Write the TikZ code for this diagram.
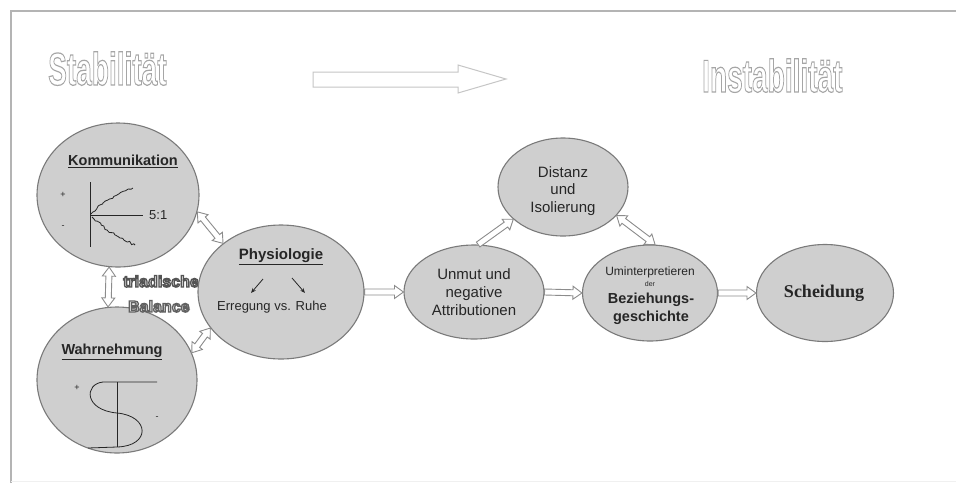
\documentclass[tikz,border=0pt]{standalone}
\usepackage{fontspec}
\setmainfont{Liberation Sans}
\newfontfamily\serifbold{Liberation Serif}
\usetikzlibrary{calc,shapes.geometric,decorations.pathmorphing,arrows.meta}
\definecolor{ellfill}{HTML}{CFCFCF}
\definecolor{elldraw}{HTML}{7A7A7A}
\definecolor{txtc}{HTML}{262626}
\definecolor{framec}{HTML}{B4B4B4}
\definecolor{arrc}{HTML}{8C8C8C}
\tikzset{
  bubble/.style={ellipse, draw=elldraw, fill=ellfill, line width=1.1pt, inner sep=0pt},
  txt/.style={text=txtc, inner sep=0pt, align=center},
  blk/.style={draw=arrc, fill=white, line width=0.9pt, line join=miter},
  thin/.style={draw=txtc, line width=0.8pt},
  outl/.style={inner sep=0pt, anchor=base west},
}
% outlined text: stroke grey, fill grey, line width, text
\newcommand\outl[4]{\special{pdf:literal direct q 2 Tr #3 w #1 G #2 g}#4\special{pdf:literal direct Q}}
% single block arrow from #1 to #2
\newcommand\sarrow[2]{%
  \draw[blk] ($(#1)!3pt!90:(#2)$) -- ($(#2)!9pt!(#1)!3pt!-90:(#1)$) -- ($(#2)!9pt!(#1)!6.5pt!-90:(#1)$) -- (#2)
   -- ($(#2)!9pt!(#1)!6.5pt!90:(#1)$) -- ($(#2)!9pt!(#1)!3pt!90:(#1)$) -- ($(#1)!3pt!-90:(#2)$) -- cycle;}
% double block arrow between #1 and #2
\newcommand\darrow[2]{%
  \draw[blk] (#1) -- ($(#1)!9pt!(#2)!6.5pt!90:(#2)$) -- ($(#1)!9pt!(#2)!3pt!90:(#2)$)
   -- ($(#2)!9pt!(#1)!3pt!-90:(#1)$) -- ($(#2)!9pt!(#1)!6.5pt!-90:(#1)$) -- (#2)
   -- ($(#2)!9pt!(#1)!6.5pt!90:(#1)$) -- ($(#2)!9pt!(#1)!3pt!90:(#1)$)
   -- ($(#1)!9pt!(#2)!3pt!-90:(#2)$) -- ($(#1)!9pt!(#2)!6.5pt!-90:(#2)$) -- cycle;}

\begin{document}
\begin{tikzpicture}[x=1pt,y=-1pt]
\useasboundingbox (0,0) rectangle (956,483);
\fill[white] (0,0) rectangle (956,483);
% frame
\draw[framec, line width=1.4pt] (11,483) -- (11,11) -- (956,11);
\draw[gray!12, line width=1pt] (11,481) -- (956,481);

% titles
\node[outl, font=\fontsize{46}{50}\selectfont\bfseries] (stab) at (48,85)
  {\scalebox{0.61}[1]{\outl{0.65}{1}{1.2}{Stabilität}}};
\node[outl, font=\fontsize{46}{50}\selectfont\bfseries] (inst) at (702,92)
  {\scalebox{0.61}[1]{\outl{0.65}{1}{1.2}{Instabilität}}};

% big hollow arrow
\coordinate (ba1) at (313,72);
\draw[draw=gray!45, line width=1pt, fill=white] (ba1) -- (458,72) -- (458,65) -- (506,79) -- (458,93) -- (458,87) -- (313,87) -- cycle;

% ellipses (left)
\node[bubble, minimum width=162pt, minimum height=144pt] (kom) at (118,195) {};
\node[bubble, minimum width=160pt, minimum height=146pt] (wahr) at (117,380) {};

% triadische Balance (over Wahrnehmung, behind Physiologie)
\node[outl, font=\fontsize{16}{18}\selectfont\bfseries] (tri) at (123,287)
  {\outl{0.33}{0.86}{1.3}{triadische}};
\node[outl, font=\fontsize{16}{18}\selectfont\bfseries] (bal) at (128,312)
  {\outl{0.38}{0.9}{1.3}{Balance}};

% ellipses (rest)
\node[bubble, minimum width=166pt, minimum height=134pt] (phys) at (281,292) {};
\node[bubble, minimum width=140pt, minimum height=94pt] (unmut) at (474,292) {};
\node[bubble, minimum width=130pt, minimum height=98pt] (dist) at (563,187) {};
\node[bubble, minimum width=135pt, minimum height=96pt] (bez) at (650,293) {};
\node[bubble, minimum width=137pt, minimum height=97pt] (sch) at (825,293) {};

% Kommunikation contents
\node[txt, font=\fontsize{14.5}{16}\selectfont\bfseries] (komt) at (123,161) {\underline{Kommunikation}};
\node[txt, font=\fontsize{9}{10}\selectfont] (kplus) at (63,195) {+};
\node[txt, font=\fontsize{9}{10}\selectfont] (kminus) at (63,227) {-};
\coordinate (kv1) at (90,182);
\coordinate (kv2) at (90,247);
\coordinate (ko) at (90,215);
\coordinate (kh) at (143,215);
\draw[thin] (kv1) -- (kv2);
\draw[thin] (ko) -- (kh);
\node[txt, font=\fontsize{13}{15}\selectfont, anchor=west] (ratio) at (149,215) {5:1};
\pgfmathsetseed{7}
\draw[thin, decorate, decoration={random steps, segment length=2.5pt, amplitude=1.1pt}]
  (91,214) -- (103,203) -- (117,195) -- (133,188);
\draw[thin, decorate, decoration={random steps, segment length=2.5pt, amplitude=1.1pt}]
  (92,217) -- (107,230) -- (120,238) -- (135,245);

% Wahrnehmung contents
\node[txt, font=\fontsize{14.5}{16}\selectfont\bfseries] (wahrt) at (112,352) {\underline{Wahrnehmung}};
\node[txt, font=\fontsize{9}{10}\selectfont] (wplus) at (77,388) {+};
\node[txt, font=\fontsize{9}{10}\selectfont] (wminus) at (157,418) {-};
\coordinate (ws1) at (157,382);
\coordinate (wv1) at (117,382);
\coordinate (wv2) at (117,447);
\draw[thin] (wv1) -- (wv2);
\draw[thin] (ws1) -- (103,382) .. controls (84,384) and (84,410) .. (117,413)
  .. controls (150,416) and (151,446) .. (117,447) -- (88,448);

% Physiologie contents
\node[txt, font=\fontsize{15}{17}\selectfont\bfseries] (physt) at (281,257) {\underline{Physiologie}};
\node[txt, font=\fontsize{13}{15}\selectfont] (erreg) at (272,307) {Erregung vs. Ruhe};
\coordinate (pa1) at (263,279);
\coordinate (pa2) at (251,293);
\coordinate (pb1) at (292,278);
\coordinate (pb2) at (305,293);
\draw[thin, -{Stealth[length=5pt,width=4pt]}] (pa1) -- (pa2);
\draw[thin, -{Stealth[length=5pt,width=4pt]}] (pb1) -- (pb2);

% right-side texts
\node[txt, font=\fontsize{15}{18}\selectfont] (unmutt) at (474,292) {Unmut und\\negative\\Attributionen};
\node[txt, font=\fontsize{15}{17.5}\selectfont] (distt) at (563,191) {Distanz\\und\\Isolierung};
\node[txt, font=\fontsize{12}{13}\selectfont] (umint) at (650,272) {Uminterpretieren};
\node[txt, font=\fontsize{7}{8}\selectfont] (dert) at (650,284) {der};
\node[txt, font=\fontsize{14.5}{18}\selectfont\bfseries] (bezt) at (651,309) {Beziehungs-\\geschichte};
\node[txt, font=\fontsize{18}{20}\selectfont\serifbold\bfseries] (scht) at (824,293) {Scheidung};

% block arrows
\darrow{kom.-12}{phys.140}
\darrow{kom.-97}{wahr.97}
\darrow{wahr.20}{phys.207}
\sarrow{phys.east}{unmut.west}
\sarrow{unmut.east}{bez.west}
\sarrow{bez.east}{sch.west}
\sarrow{unmut.85}{dist.213}
\darrow{dist.-28}{bez.84}
\end{tikzpicture}
\end{document}
